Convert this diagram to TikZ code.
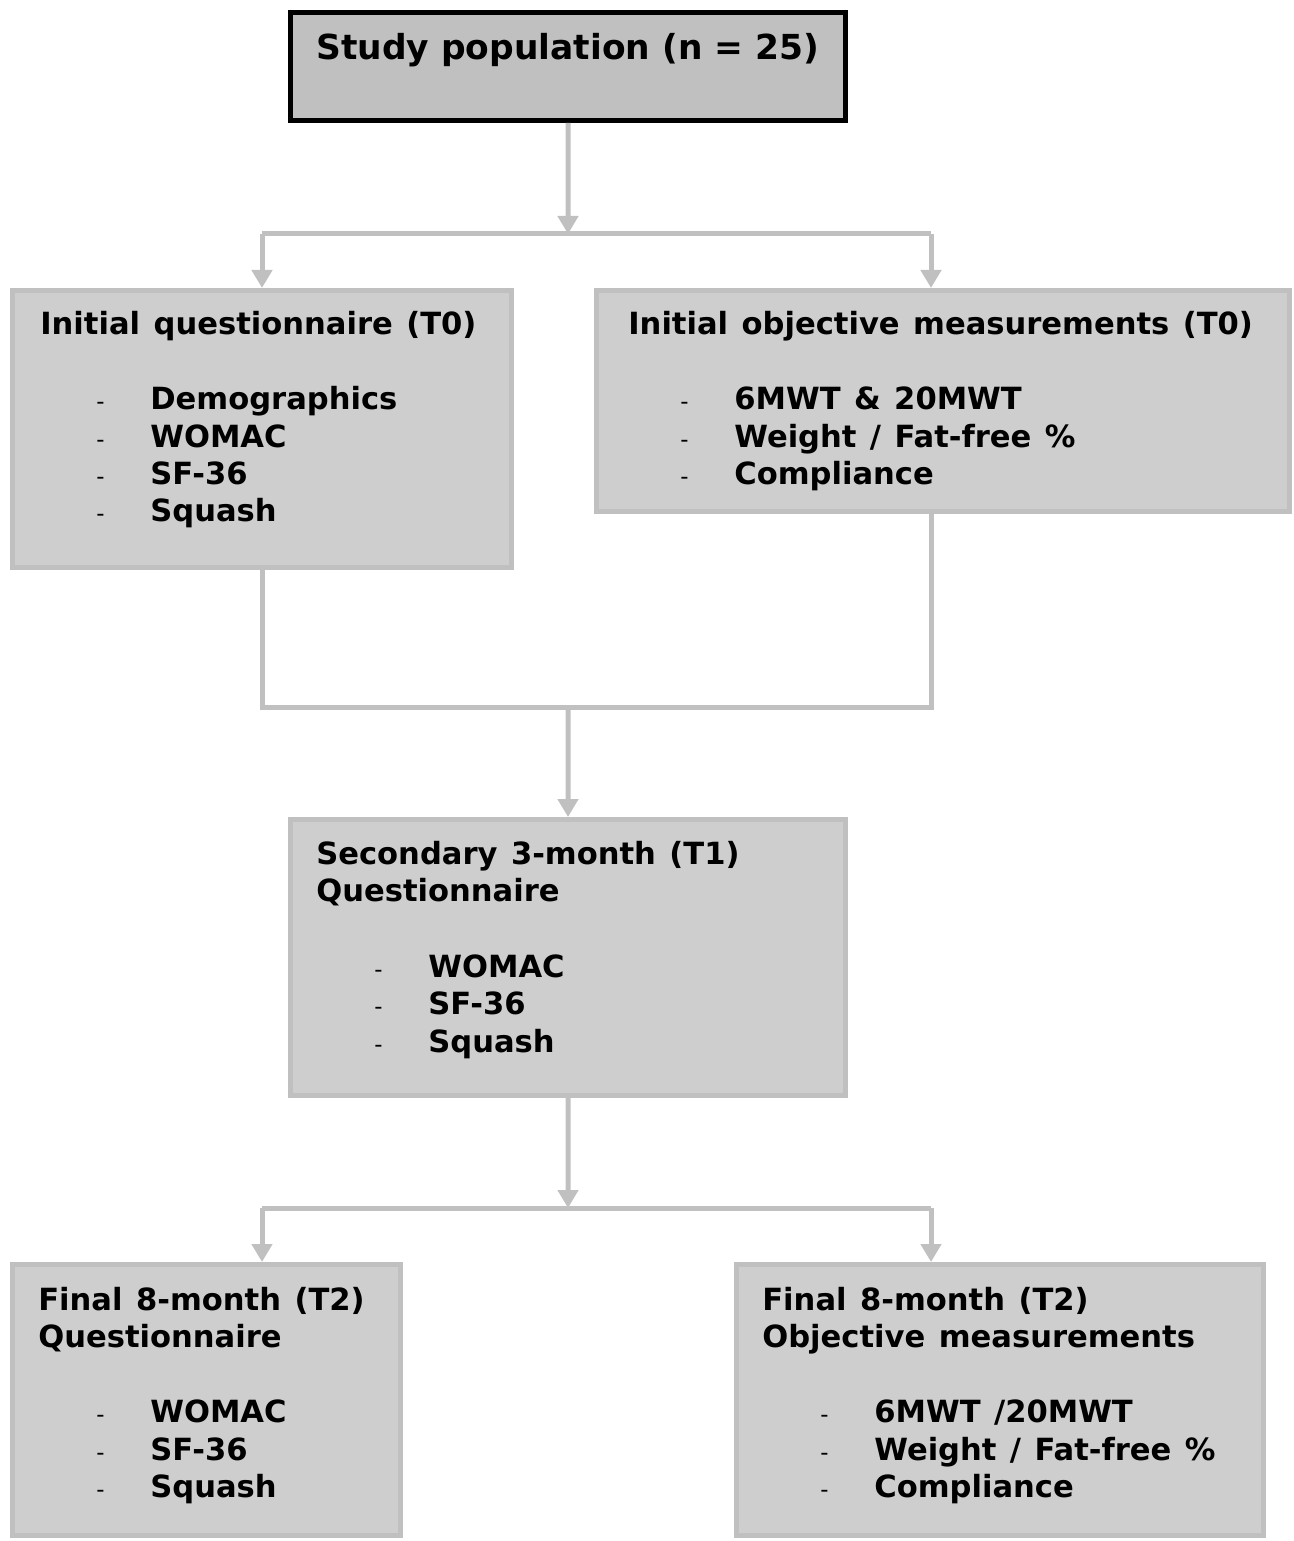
\documentclass[tikz,border=0pt]{standalone}
\usepackage{fontspec}
\setmainfont{DejaVu Sans}
\usetikzlibrary{arrows.meta}
\definecolor{linegray}{RGB}{192,192,192}
\definecolor{boxgray}{RGB}{206,206,206}
\newcommand{\itemfont}{\fontsize{17.4}{20}\selectfont\bfseries\spaceskip 0.44em\relax}
\tikzset{box/.style={draw=linegray, line width=1mm, fill=boxgray, anchor=north west, inner sep=0mm}}
\tikzset{topbox/.style={draw=black, line width=1mm, fill=linegray, anchor=north west, inner sep=0mm}}
\tikzset{link/.style={draw=linegray, line width=1mm}}
\tikzset{arrowlink/.style={link, -{Triangle[length=3.6mm, width=4mm]}}}
\tikzset{txt/.style={anchor=base west, inner sep=0mm, font=\itemfont}}
\tikzset{bullet/.style={anchor=base west, inner sep=0mm, font=\fontsize{13}{15}\selectfont}}

\begin{document}
\begin{tikzpicture}[x=0.2mm, y=-0.2mm]
    \useasboundingbox (0,0) rectangle (1294,1541);

    \node (pop) [topbox, minimum width=111mm, minimum height=21.6mm] at (288,10) {};
    \node (popt) [txt, font=\fontsize{19.6}{23}\selectfont\bfseries] at (316,60) {Study population (n = 25)};

    \node (qa) [box, minimum width=99.8mm, minimum height=55.4mm] at (10,288) {};
    \node (om) [box, minimum width=138.6mm, minimum height=44.2mm] at (594,288) {};
    \node (sec) [box, minimum width=111mm, minimum height=55.2mm] at (288,817) {};
    \node (fq) [box, minimum width=77.6mm, minimum height=54.2mm] at (10,1262) {};
    \node (fm) [box, minimum width=105.4mm, minimum height=54.2mm] at (734,1262) {};

    % connectors
    \coordinate (j1) at (568,234);
    \coordinate (l1) at (262,234);
    \coordinate (r1) at (931,234);
    \coordinate (j2) at (568,707);
    \coordinate (r2) at (931,707);
    \coordinate (j3) at (568,1208);
    \coordinate (l3) at (262,1208);
    \coordinate (r3) at (931,1208);

    \draw[arrowlink] (pop.south) -- (j1);
    \draw[link] (l1) -- (r1);
    \draw[arrowlink] (l1) -- (l1 |- qa.north);
    \draw[arrowlink] (r1) -- (r1 |- om.north);

    \draw[link] (qa.south) |- (r2) -- (r1 |- om.south);
    \draw[arrowlink] (j2) -- (sec.north);

    \draw[arrowlink] (sec.south) -- (j3);
    \draw[link] (l3) -- (r3);
    \draw[arrowlink] (l3) -- (l3 |- fq.north);
    \draw[arrowlink] (r3) -- (r3 |- fm.north);

    % initial questionnaire
    \node (qat) [txt] at (40,335) {Initial questionnaire (T0)};
    \node (qad1) [bullet] at (96,410) {-};
    \node (qad2) [bullet] at (96,447) {-};
    \node (qad3) [bullet] at (96,484) {-};
    \node (qad4) [bullet] at (96,521) {-};
    \node (qai1) [txt] at (150,410) {Demographics};
    \node (qai2) [txt] at (150,447) {WOMAC};
    \node (qai3) [txt] at (150,484) {SF-36};
    \node (qai4) [txt] at (150,521) {Squash};

    % initial objective measurements
    \node (omt) [txt] at (628,335) {Initial objective measurements (T0)};
    \node (omd1) [bullet] at (680,410) {-};
    \node (omd2) [bullet] at (680,447) {-};
    \node (omd3) [bullet] at (680,484) {-};
    \node (omi1) [txt] at (734,410) {6MWT \& 20MWT};
    \node (omi2) [txt] at (734,447) {Weight / Fat-free \%};
    \node (omi3) [txt] at (734,484) {Compliance};

    % secondary questionnaire
    \node (sect1) [txt] at (316,864) {Secondary 3-month (T1)};
    \node (sect2) [txt] at (316,901) {Questionnaire};
    \node (secd1) [bullet] at (374,977) {-};
    \node (secd2) [bullet] at (374,1014) {-};
    \node (secd3) [bullet] at (374,1052) {-};
    \node (seci1) [txt] at (428,977) {WOMAC};
    \node (seci2) [txt] at (428,1014) {SF-36};
    \node (seci3) [txt] at (428,1052) {Squash};

    % final questionnaire
    \node (fqt1) [txt] at (38,1310) {Final 8-month (T2)};
    \node (fqt2) [txt] at (38,1347) {Questionnaire};
    \node (fqd1) [bullet] at (96,1422) {-};
    \node (fqd2) [bullet] at (96,1460) {-};
    \node (fqd3) [bullet] at (96,1497) {-};
    \node (fqi1) [txt] at (150,1422) {WOMAC};
    \node (fqi2) [txt] at (150,1460) {SF-36};
    \node (fqi3) [txt] at (150,1497) {Squash};

    % final objective measurements
    \node (fmt1) [txt] at (762,1310) {Final 8-month (T2)};
    \node (fmt2) [txt] at (762,1347) {Objective measurements};
    \node (fmd1) [bullet] at (820,1422) {-};
    \node (fmd2) [bullet] at (820,1460) {-};
    \node (fmd3) [bullet] at (820,1497) {-};
    \node (fmi1) [txt] at (874,1422) {6MWT /20MWT};
    \node (fmi2) [txt] at (874,1460) {Weight / Fat-free \%};
    \node (fmi3) [txt] at (874,1497) {Compliance};
\end{tikzpicture}
\end{document}
